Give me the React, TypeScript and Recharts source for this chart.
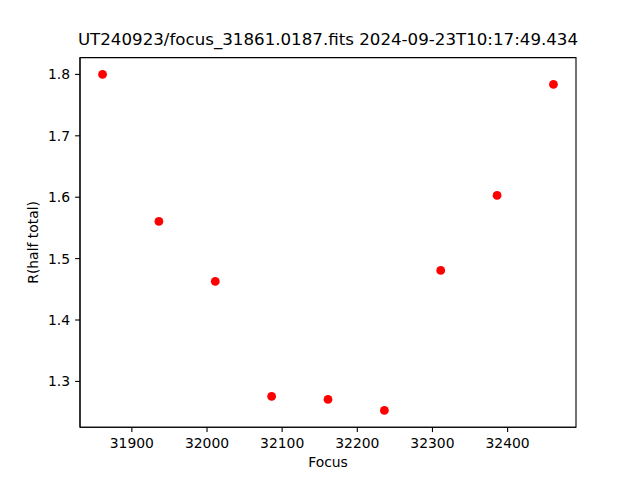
import { ScatterChart, Scatter, XAxis, YAxis, ReferenceArea } from "recharts";

const focus = [31861, 31936, 32011, 32086, 32161, 32236, 32311, 32386, 32461];
const rHalfTotal = [1.8, 1.5606, 1.4629, 1.2756, 1.2707, 1.2528, 1.4808, 1.6029, 1.7837];
const xTicks = [31900, 32000, 32100, 32200, 32300, 32400];
const yTicks = [1.3, 1.4, 1.5, 1.6, 1.7, 1.8];

const title = "UT240923/focus_31861.0187.fits 2024-09-23T10:17:49.434";

const points = focus.map((x, i) => ({ x, y: rHalfTotal[i] }));

// matplotlib-style 5% autoscale margins
const pad = (vals: number[]) => {
  const lo = Math.min(...vals);
  const hi = Math.max(...vals);
  const m = (hi - lo) * 0.05;
  return [lo - m, hi + m];
};
const xDomain = pad(focus);
const yDomain = pad(rHalfTotal);

const font = "DejaVu Sans";
const tickStyle = { fill: "#000", fontSize: 13.9, fontFamily: font };
const lineStyle = { stroke: "#000", strokeWidth: 1.1 };

const Dot = (p: any) => <circle cx={p.cx} cy={p.cy} r={4.4} fill="#ff0000" />;

export default function App() {
  return (
    <div style={{ position: "absolute", left: 0, top: 0, width: 640, height: 480, background: "#fff" }}>
      <ScatterChart width={640} height={480} margin={{ top: 57.6, right: 64, bottom: 0, left: 0 }}>
        <XAxis
          dataKey="x"
          type="number"
          domain={xDomain}
          ticks={xTicks}
          height={52.8}
          tick={tickStyle}
          axisLine={lineStyle}
          tickLine={lineStyle}
          tickSize={4.9}
          tickMargin={6.5}
        />
        <YAxis
          dataKey="y"
          type="number"
          domain={yDomain}
          ticks={yTicks}
          width={80}
          tick={tickStyle}
          tickFormatter={(v: number) => v.toFixed(1)}
          axisLine={lineStyle}
          tickLine={lineStyle}
          tickSize={4.9}
          tickMargin={5}
        />
        {/* axes frame */}
        <ReferenceArea
          x1={xDomain[0]}
          x2={xDomain[1]}
          y1={yDomain[0]}
          y2={yDomain[1]}
          fill="none"
          fillOpacity={0}
          stroke="#000"
          strokeWidth={1.1}
          ifOverflow="visible"
        />
        <Scatter data={points} shape={Dot} isAnimationActive={false} />
      </ScatterChart>
      <svg width={640} height={480} style={{ position: "absolute", left: 0, top: 0, pointerEvents: "none" }}>
        <text x={328} y={45} textAnchor="middle" fontFamily={font} fontSize={16.67} fill="#000">
          {title}
        </text>
        <text x={328} y={466.5} textAnchor="middle" fontFamily={font} fontSize={13.9} fill="#000">
          Focus
        </text>
        <text x={38} y={242.4} textAnchor="middle" fontFamily={font} fontSize={13.9} fill="#000" transform="rotate(-90 38 242.4)">
          R(half total)
        </text>
      </svg>
    </div>
  );
}
